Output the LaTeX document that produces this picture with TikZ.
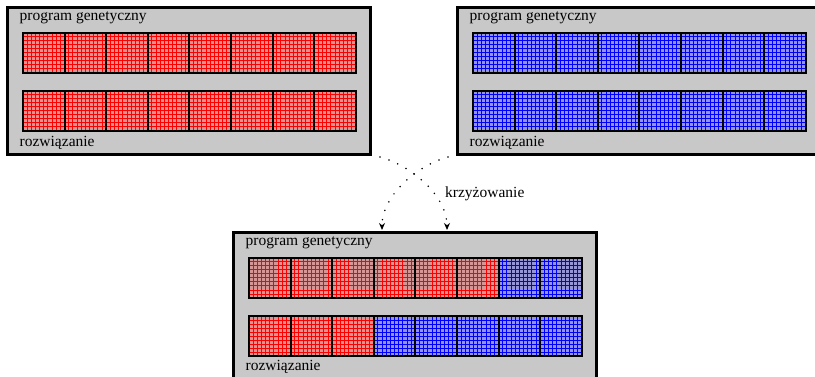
\documentclass[tikz,border=0pt]{standalone}
\usepackage{fontspec}
\setmainfont{Liberation Serif}
\usetikzlibrary{arrows.meta,positioning}
\definecolor{boxgray}{RGB}{200,200,200}
\newcommand\genegrid[2]{%
  \foreach \k in {1,...,9} {
    \path[fill=#2] ([shift={(4.16*\k-0.5,1)}]#1.north west) rectangle ++(1,38);
    \path[fill=#2] ([shift={(1,4*\k-0.5)}]#1.north west) rectangle ++(39.6,1);
  }}
\tikzset{
  program/.style={draw, line width=3pt, fill=boxgray, minimum width=363pt, minimum height=147pt, inner sep=0pt, outer sep=0pt},
  gene/.style={draw, line width=2pt, fill=#1!25!boxgray, minimum width=41.6pt, minimum height=40pt, inner sep=0pt, outer sep=0pt},
  caption/.style={anchor=base west, inner sep=0pt, font=\fontsize{15.5}{18}\selectfont},
  cross/.style={line width=1.7pt, dash pattern=on 0pt off 9.5pt, line cap=round, -{Stealth[length=7pt,width=6pt]}}
}

\begin{document}
\begin{tikzpicture}[x=1pt,y=-1pt]
            \useasboundingbox (0,0) rectangle (815,377);

            \node[program] (mother) at (189,81) {};
            \node[program] (father) at (639,81) {};
            \node[program] (child) at (415,306) {};

            \node[caption] (mother top) at ([shift={(12,13.5)}]mother.north west) {program genetyczny};
            \node[caption] (mother bottom) at ([shift={(12,-7.5)}]mother.south west) {rozwiązanie};
            \node[caption] (father top) at ([shift={(12,13.5)}]father.north west) {program genetyczny};
            \node[caption] (father bottom) at ([shift={(12,-7.5)}]father.south west) {rozwiązanie};
            \node[caption] (child top) at ([shift={(12,13.5)}]child.north west) {program genetyczny};
            \node[caption] (child bottom) at ([shift={(12,-9)}]child.south west) {rozwiązanie};

            \foreach \i/\c in {0/red,1/red,2/red,3/red,4/red,5/red,6/red,7/red} {
              \node[gene=\c] (mother a\i) at ([shift={(36.3+41.6*\i,45.5)}]mother.north west) {};
              \genegrid{mother a\i}{\c}
            }
            \foreach \i/\c in {0/red,1/red,2/red,3/red,4/red,5/red,6/red,7/red} {
              \node[gene=\c] (mother b\i) at ([shift={(36.3+41.6*\i,103.5)}]mother.north west) {};
              \genegrid{mother b\i}{\c}
            }
            \foreach \i/\c in {0/blue,1/blue,2/blue,3/blue,4/blue,5/blue,6/blue,7/blue} {
              \node[gene=\c] (father a\i) at ([shift={(36.3+41.6*\i,45.5)}]father.north west) {};
              \genegrid{father a\i}{\c}
            }
            \foreach \i/\c in {0/blue,1/blue,2/blue,3/blue,4/blue,5/blue,6/blue,7/blue} {
              \node[gene=\c] (father b\i) at ([shift={(36.3+41.6*\i,103.5)}]father.north west) {};
              \genegrid{father b\i}{\c}
            }

            \foreach \i/\c in {0/red,1/red,2/red,3/red,4/red,5/red,6/blue,7/blue} {
              \node[gene=\c] (child a\i) at ([shift={(36.3+41.6*\i,45.5)}]child.north west) {};
              \genegrid{child a\i}{\c}
            }
            \foreach \i/\c in {0/red,1/red,2/red,3/blue,4/blue,5/blue,6/blue,7/blue} {
              \node[gene=\c] (child b\i) at ([shift={(36.3+41.6*\i,103.5)}]child.north west) {};
              \genegrid{child b\i}{\c}
            }

            \coordinate (mother out) at ([shift={(9.5,2.5)}]mother.south east);
            \coordinate (father out) at ([shift={(-9.5,2.5)}]father.south west);
            \coordinate (child in right) at ([shift={(32,-2.5)}]child.north);
            \coordinate (child in left) at ([shift={(-33,-2.5)}]child.north);

            \draw[cross] (mother out) .. controls +(30,8) and +(0,-35) .. (child in right);
            \draw[cross] (father out) .. controls +(-30,8) and +(0,-35) .. (child in left);
            \node[caption] (label) at ([shift={(30,-35)}]child.north) {krzyżowanie};
\end{tikzpicture}
\end{document}
